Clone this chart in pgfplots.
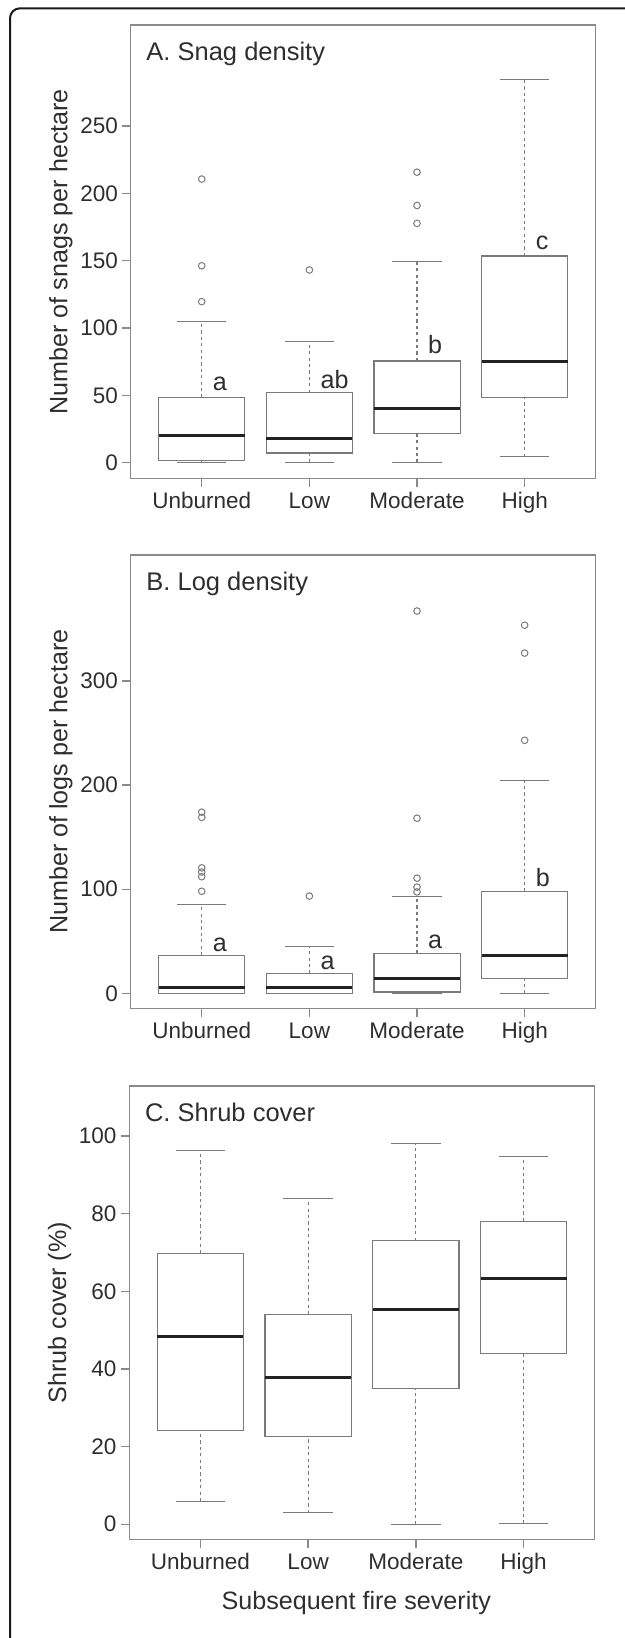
\documentclass[border=0pt]{standalone}
\usepackage{fontspec}
\setmainfont{Liberation Sans}
\usepackage{pgfplots}
\pgfplotsset{compat=1.18}
\usepgfplotslibrary{statistics}

\definecolor{txt}{HTML}{2E2E2E}
\definecolor{frm}{HTML}{8A8A8A}
\definecolor{boxc}{HTML}{7A7A7A}
\definecolor{medc}{HTML}{222222}

\tikzset{
  ttl/.style={anchor=base west, inner sep=0pt, font=\fontsize{12.8}{15}\selectfont, text=txt},
  lett/.style={anchor=base west, inner sep=0pt, font=\fontsize{12.6}{15}\selectfont, text=txt},
}

\pgfplotsset{
  panel/.style={
    scale only axis,
    width=232.5bp, height=226.65bp,
    xmin=0.34, xmax=4.66,
    xtick={1,2,3,4},
    xticklabels={Unburned,Low,Moderate,High},
    xtick pos=bottom, ytick pos=left,
    tick align=outside,
    major tick length=4.3bp,
    axis line style={frm, line width=0.65bp},
    every tick/.style={frm, line width=0.65bp},
    /pgf/number format/assume math mode=true,
    ticklabel style={font=\fontsize{11.3}{13}\selectfont, text=txt},
    yticklabel style={anchor=east, inner sep=0pt, xshift=-1.9bp},
    xticklabel style={anchor=base, inner sep=0pt, yshift=-10.7bp},
    label style={font=\fontsize{12.6}{15}\selectfont, text=txt},
    ylabel style={at={(axis description cs:-0.136,0.5)}, anchor=base, inner sep=0pt},
    clip=false,
  },
  bx/.style={
    boxplot prepared={#1},
    boxplot/draw direction=y,
    boxplot/box extend=0.8,
    boxplot/whisker extend=0.46,
    solid, draw=boxc, line width=0.55bp,
    mark=o, mark size=1.65bp,
    mark options={draw=boxc, line width=0.5bp, fill=none},
    boxplot/every box/.style={draw=boxc, line width=0.55bp, fill=white},
    boxplot/every median/.style={draw=medc, line width=1.5bp},
    boxplot/draw/lower whisker/.code={%
      \draw[boxc, line width=0.55bp, dash pattern=on 1.6bp off 1.6bp]
        (boxplot box cs:\pgfplotsboxplotvalue{lower whisker},0.5) --
        (boxplot box cs:\pgfplotsboxplotvalue{lower quartile},0.5);
      \draw[boxc, line width=0.55bp]
        (boxplot whisker cs:\pgfplotsboxplotvalue{lower whisker},0) --
        (boxplot whisker cs:\pgfplotsboxplotvalue{lower whisker},1);
    },
    boxplot/draw/upper whisker/.code={%
      \draw[boxc, line width=0.55bp, dash pattern=on 1.6bp off 1.6bp]
        (boxplot box cs:\pgfplotsboxplotvalue{upper quartile},0.5) --
        (boxplot box cs:\pgfplotsboxplotvalue{upper whisker},0.5);
      \draw[boxc, line width=0.55bp]
        (boxplot whisker cs:\pgfplotsboxplotvalue{upper whisker},0) --
        (boxplot whisker cs:\pgfplotsboxplotvalue{upper whisker},1);
    },
  },
}

\begin{document}
\begin{tikzpicture}
\useasboundingbox (0,0) rectangle (312.5bp,-819bp);
\begin{scope}
  \clip (0,0) rectangle (312.5bp,-819bp);
  \draw[black!90, line width=1bp, rounded corners=5bp] (5bp,-860bp) -- (5bp,-4.15bp) -- (340bp,-4.15bp);
\end{scope}

% A. snags
\begin{axis}[panel, at={(65.35bp,-239.15bp)}, anchor=south west,
  ymin=-11.6, ymax=325, ytick={0,50,100,150,200,250},
  ylabel={Number of snags per hectare}]
  \addplot[bx={draw position=1, lower whisker=0, lower quartile=1.9, median=19.9, upper quartile=48.3, upper whisker=104.8}]
    table[row sep=\\, y index=0] {data\\ 210.6\\ 146.2\\ 119.6\\};
  \addplot[bx={draw position=2, lower whisker=0, lower quartile=7.2, median=17.8, upper quartile=51.9, upper whisker=89.9}]
    table[row sep=\\, y index=0] {data\\ 143.1\\};
  \addplot[bx={draw position=3, lower whisker=0, lower quartile=21.5, median=39.9, upper quartile=75.5, upper whisker=149.2}]
    table[row sep=\\, y index=0] {data\\ 177.7\\ 191.0\\ 215.7\\};
  \addplot[bx={draw position=4, lower whisker=4.3, lower quartile=48.7, median=75.5, upper quartile=153.5, upper whisker=284.8}]
    coordinates {};
  \node[ttl] at (rel axis cs:0.033,0.921) {A. Snag density};
  \node[lett] at (axis cs:1.1,53.6) {a};
  \node[lett] at (axis cs:2.1,55.2) {ab};
  \node[lett] at (axis cs:3.1,81.1) {b};
  \node[lett] at (axis cs:4.1,158.2) {c};
\end{axis}

% B. logs
\begin{axis}[panel, at={(65.35bp,-504.15bp)}, anchor=south west,
  ymin=-14.4, ymax=421, ytick={0,100,200,300},
  ylabel={Number of logs per hectare}]
  \addplot[bx={draw position=1, lower whisker=0, lower quartile=0, median=5.3, upper quartile=36.7, upper whisker=85.2}]
    table[row sep=\\, y index=0] {data\\ 98\\ 112\\ 116.5\\ 120.5\\ 169\\ 174\\};
  \addplot[bx={draw position=2, lower whisker=0, lower quartile=0, median=5.3, upper quartile=18.9, upper whisker=44.7}]
    table[row sep=\\, y index=0] {data\\ 93.4\\};
  \addplot[bx={draw position=3, lower whisker=0, lower quartile=1.3, median=14.2, upper quartile=38.4, upper whisker=93.4}]
    table[row sep=\\, y index=0] {data\\ 97.4\\ 102\\ 110.6\\ 168.2\\ 367.2\\};
  \addplot[bx={draw position=4, lower whisker=0, lower quartile=14.2, median=36.8, upper quartile=97.7, upper whisker=204}]
    table[row sep=\\, y index=0] {data\\ 243\\ 326.8\\ 353.6\\};
  \node[ttl] at (rel axis cs:0.033,0.921) {B. Log density};
  \node[lett] at (axis cs:1.1,39.8) {a};
  \node[lett] at (axis cs:2.1,22.5) {a};
  \node[lett] at (axis cs:3.1,42.7) {a};
  \node[lett] at (axis cs:4.1,103) {b};
\end{axis}

% C. shrubs
\begin{axis}[panel, at={(64.65bp,-769.65bp)}, anchor=south west, width=232.7bp,
  ymin=-3.9, ymax=112.9, ytick={0,20,40,60,80,100},
  ylabel={Shrub cover (\%)},
  xlabel={Subsequent fire severity},
  xlabel style={at={(axis description cs:0.5,0)}, anchor=base, inner sep=0pt, yshift=-35bp, xshift=-2.85bp}]
  \addplot[bx={draw position=1, lower whisker=5.9, lower quartile=24.2, median=48.3, upper quartile=69.8, upper whisker=96.4}]
    coordinates {};
  \addplot[bx={draw position=2, lower whisker=2.9, lower quartile=22.6, median=37.9, upper quartile=54.1, upper whisker=84.0}]
    coordinates {};
  \addplot[bx={draw position=3, lower whisker=0, lower quartile=35.0, median=55.4, upper quartile=73.0, upper whisker=98.2}]
    coordinates {};
  \addplot[bx={draw position=4, lower whisker=0.2, lower quartile=44.0, median=63.4, upper quartile=78.1, upper whisker=94.8}]
    coordinates {};
  \node[ttl] at (rel axis cs:0.033,0.921) {C. Shrub cover};
\end{axis}
\end{tikzpicture}
\end{document}
